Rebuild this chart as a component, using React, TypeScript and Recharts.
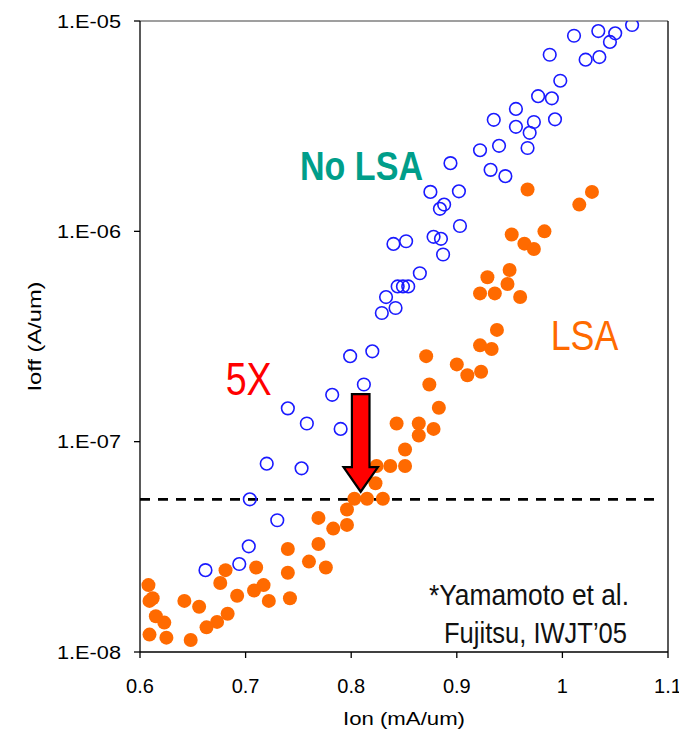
import { ScatterChart, Scatter, XAxis, YAxis, ReferenceLine, ReferenceDot } from 'recharts'

// Ion (mA/um) / Ioff (A/um)
const noLsaIon = [
  1.066, 1.034, 1.05, 1.045, 1.011, 0.988, 1.022, 1.035, 0.998, 0.977, 0.99, 0.956, 0.935, 0.956,
  0.973, 0.993, 0.969, 0.94, 0.922, 0.967, 0.894, 0.932, 0.946, 0.875, 0.902, 0.888, 0.884, 0.903,
  0.852, 0.878, 0.885, 0.887, 0.865, 0.84, 0.844, 0.849, 0.854, 0.833, 0.842, 0.829, 0.82, 0.799,
  0.812, 0.782, 0.74, 0.758, 0.79, 0.72, 0.753, 0.704, 0.73, 0.703, 0.694, 0.662,
]
const noLsaIoff = [
  9.57e-6, 8.96e-6, 8.74e-6, 7.95e-6, 8.51e-6, 6.91e-6, 6.55e-6, 6.74e-6, 5.2e-6, 4.39e-6, 4.29e-6,
  3.82e-6, 3.39e-6, 3.14e-6, 3.31e-6, 3.41e-6, 2.94e-6, 2.55e-6, 2.43e-6, 2.49e-6, 2.11e-6, 1.96e-6,
  1.83e-6, 1.54e-6, 1.55e-6, 1.34e-6, 1.28e-6, 1.06e-6, 8.97e-7, 9.42e-7, 9.21e-7, 7.76e-7, 6.32e-7,
  8.71e-7, 5.47e-7, 5.47e-7, 5.47e-7, 4.87e-7, 4.32e-7, 4.09e-7, 2.69e-7, 2.55e-7, 1.87e-7, 1.67e-7,
  1.44e-7, 1.22e-7, 1.15e-7, 7.86e-8, 7.47e-8, 5.32e-8, 4.23e-8, 3.18e-8, 2.62e-8, 2.45e-8,
]
const lsaIon = [
  0.967, 1.028, 1.016, 0.952, 0.983, 0.964, 0.973, 0.95, 0.929, 0.948, 0.922, 0.936, 0.96, 0.938,
  0.922, 0.933, 0.871, 0.9, 0.91, 0.923, 0.874, 0.883, 0.843, 0.864, 0.878, 0.864, 0.851, 0.824,
  0.837, 0.851, 0.823, 0.803, 0.815, 0.83, 0.796, 0.796, 0.783, 0.769, 0.769, 0.74, 0.76, 0.776,
  0.74, 0.71, 0.681, 0.676, 0.717, 0.708, 0.722, 0.742, 0.692, 0.683, 0.673, 0.663, 0.656, 0.642,
  0.648, 0.625, 0.623, 0.615, 0.609, 0.612, 0.608, 0.609,
]
const lsaIoff = [
  1.58e-6, 1.54e-6, 1.34e-6, 9.66e-7, 1.0e-6, 8.74e-7, 8.24e-7, 6.55e-7, 6.05e-7, 5.62e-7, 5.07e-7,
  5.07e-7, 4.87e-7, 3.4e-7, 2.87e-7, 2.76e-7, 2.55e-7, 2.33e-7, 2.07e-7, 2.15e-7, 1.87e-7, 1.45e-7,
  1.22e-7, 1.22e-7, 1.15e-7, 1.07e-7, 9.18e-8, 7.66e-8, 7.66e-8, 7.66e-8, 6.34e-8, 5.35e-8, 5.35e-8,
  5.35e-8, 4.76e-8, 4.02e-8, 3.86e-8, 4.34e-8, 3.26e-8, 3.09e-8, 2.69e-8, 2.52e-8, 2.38e-8, 2.52e-8,
  2.45e-8, 2.13e-8, 2.08e-8, 1.96e-8, 1.75e-8, 1.8e-8, 1.85e-8, 1.52e-8, 1.39e-8, 1.31e-8, 1.64e-8,
  1.75e-8, 1.14e-8, 1.17e-8, 1.38e-8, 1.48e-8, 1.75e-8, 1.8e-8, 2.08e-8, 1.21e-8,
]

const xTicks = [0.6, 0.7, 0.8, 0.9, 1, 1.1]
const yTicks = [1e-8, 1e-7, 1e-6, 1e-5]
const targetIoff = 5.32e-8
const arrowTip = { x: 0.809, y: 5.78e-8 }

const noLsa = noLsaIon.map((x, i) => ({ x, y: noLsaIoff[i] }))
const lsa = lsaIon.map((x, i) => ({ x, y: lsaIoff[i] }))

const SANS = '"Liberation Sans", Arial, sans-serif'
const NARROW = '"Liberation Sans Narrow", "Arial Narrow", "Liberation Sans", Arial, sans-serif'

const fmtY = (v: number) => `1.E-${String(Math.round(-Math.log10(v))).padStart(2, '0')}`
const fmtX = (v: number) => (v === 1 ? '1' : v.toFixed(1))

function YTick({ x, y, payload }: any) {
  return (
    <text x={x - 7} y={y} dy={6.7} textAnchor="end" fontSize={18.5} fontFamily={SANS} fill="#000"
      textLength={64} lengthAdjust="spacingAndGlyphs">
      {fmtY(payload.value)}
    </text>
  )
}

function XTick({ x, y, payload }: any) {
  return (
    <text x={x} y={y} dy={28.7} textAnchor="middle" fontSize={20} fontFamily={SANS} fill="#000">
      {fmtX(payload.value)}
    </text>
  )
}

function OpenDot({ cx, cy }: any) {
  return <circle cx={cx} cy={cy} r={6.3} fill="none" stroke="#1a1aff" strokeWidth={1.6} />
}

function FilledDot({ cx, cy }: any) {
  return <circle cx={cx} cy={cy} r={7} fill="#ff6a00" />
}

function DownArrow({ cx, cy }: any) {
  const hw = 8.8
  const HW = 17.2
  const head = 24.7
  const len = 97.7
  const pts = [
    [cx - hw, cy - len], [cx + hw, cy - len], [cx + hw, cy - head], [cx + HW, cy - head],
    [cx, cy], [cx - HW, cy - head], [cx - hw, cy - head],
  ].map((p) => p.join(',')).join(' ')
  return <polygon points={pts} fill="#ff0000" stroke="#000" strokeWidth={2.2} strokeLinejoin="miter" />
}

export default function App() {
  return (
    <ScatterChart width={679} height={726} margin={{ top: 13, right: 19, bottom: 0, left: 0 }}>
      <XAxis
        type="number"
        dataKey="x"
        domain={[0.6, 1.1]}
        ticks={xTicks}
        allowDataOverflow
        height={82}
        stroke="#000"
        strokeWidth={1.3}
        tickSize={6}
        tickMargin={6}
        tick={<XTick />}
        label={{
          content: ({ viewBox }: any) => (
            <text x={viewBox.x + viewBox.width / 2} y={717} textAnchor="middle" fontSize={18.5}
              fontFamily={SANS} textLength={122} lengthAdjust="spacingAndGlyphs">
              Ion (mA/um)
            </text>
          ),
        }}
      />
      <YAxis
        type="number"
        dataKey="y"
        scale="log"
        domain={[1e-8, 1e-5]}
        ticks={yTicks}
        allowDataOverflow
        width={132}
        stroke="#000"
        strokeWidth={1.3}
        tickSize={6}
        tickMargin={6}
        tick={<YTick />}
        label={{
          content: ({ viewBox }: any) => {
            const cy = viewBox.y + viewBox.height / 2
            return (
              <text x={33} y={cy} transform={`rotate(-90 33 ${cy})`} textAnchor="middle" fontSize={18.5}
                fontFamily={SANS} textLength={110} lengthAdjust="spacingAndGlyphs">
                Ioff (A/um)
              </text>
            )
          },
        }}
      />
      <ReferenceLine y={1e-5} stroke="#7f7f7f" strokeWidth={1.5} />
      <ReferenceLine x={1.1} stroke="#000" strokeWidth={1.3} />
      <ReferenceLine
        segment={[{ x: 0.6, y: targetIoff }, { x: 1.0905, y: targetIoff }]}
        stroke="#000"
        strokeWidth={2.8}
        strokeDasharray="10 8"
      />
      <Scatter data={lsa} shape={<FilledDot />} isAnimationActive={false} />
      <Scatter data={noLsa} shape={<OpenDot />} isAnimationActive={false} />
      <ReferenceDot x={arrowTip.x} y={arrowTip.y} r={0} shape={<DownArrow />} />
      <text x={292} y={172} fontSize={41} fontWeight="bold" fontFamily={NARROW} fill="#009e8a"
        textLength={123} lengthAdjust="spacingAndGlyphs">
        No LSA
      </text>
      <text x={217.7} y={387} fontSize={46} fontFamily={NARROW} fill="#ff0000" textLength={46}
        lengthAdjust="spacingAndGlyphs">
        5X
      </text>
      <text x={542.7} y={342} fontSize={43} fontFamily={NARROW} fill="#ff6a00" textLength={67.6}
        lengthAdjust="spacingAndGlyphs">
        LSA
      </text>
      <text x={621} y={597} textAnchor="end" fontSize={30} fontFamily={NARROW} fill="#111"
        textLength={200} lengthAdjust="spacingAndGlyphs">
        *Yamamoto et al.
      </text>
      <text x={619} y={635} textAnchor="end" fontSize={30} fontFamily={NARROW} fill="#111"
        textLength={183} lengthAdjust="spacingAndGlyphs">
        Fujitsu, IWJT’05
      </text>
    </ScatterChart>
  )
}
